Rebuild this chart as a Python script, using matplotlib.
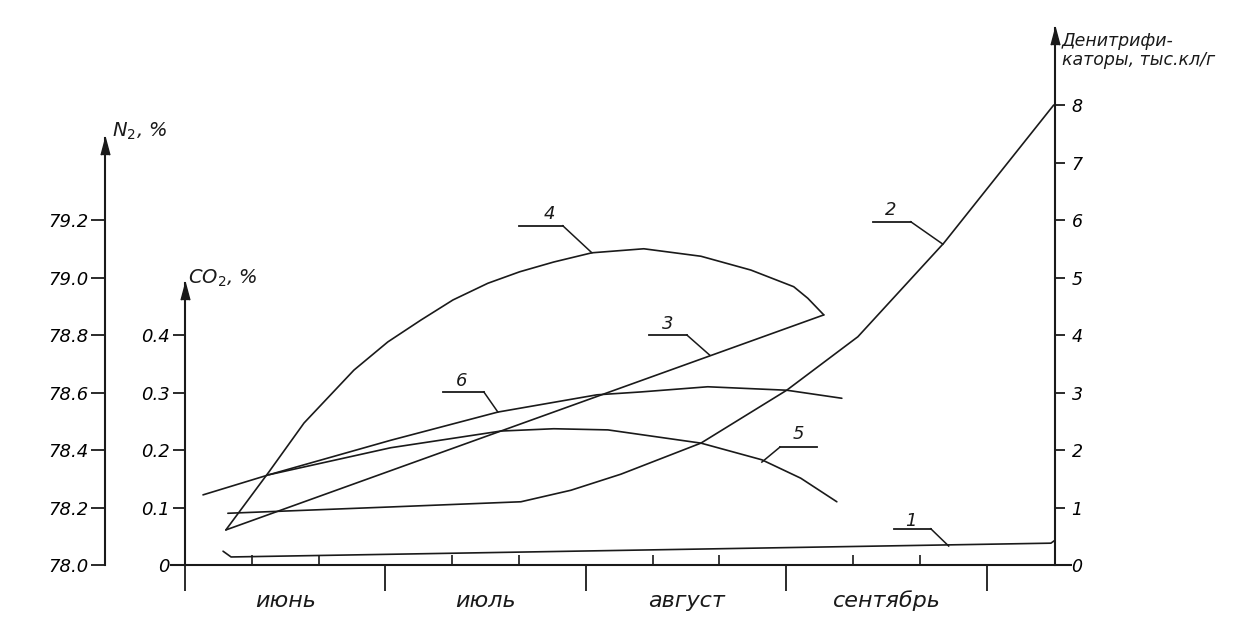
import matplotlib.pyplot as plt
import numpy as np

# x: months counted from 1 June (1 unit = 1 month)
# y: chart divisions (1 div = 1 thous. cells/g = 0.1 % CO2 = 0.2 % N2)
months = ["июнь", "июль", "август", "сентябрь"]

n2_ticks = [78.0, 78.2, 78.4, 78.6, 78.8, 79.0, 79.2]
n2_labels = ["78.0", "78.2", "78.4", "78.6", "78.8", "79.0", "79.2"]
co2_ticks = [0.0, 0.1, 0.2, 0.3, 0.4]
co2_labels = ["0", "0.1", "0.2", "0.3", "0.4"]
den_ticks = [0, 1, 2, 3, 4, 5, 6, 7, 8]

c1_x = [0.19, 0.23, 2.27, 4.32, 4.34]
c1_y = [0.24, 0.14, 0.26, 0.38, 0.43]

c2_x = [0.214, 1.027, 1.676, 1.925, 2.175, 2.574, 3.002, 3.357, 3.786, 4.334]
c2_y = [0.90, 1.01, 1.10, 1.30, 1.58, 2.12, 3.04, 3.97, 5.60, 8.00]

c3_x = [0.204, 3.187]
c3_y = [0.61, 4.35]

c4_x = [0.204, 0.419, 0.594, 0.843, 1.012, 1.177, 1.337, 1.511,
        1.670, 1.840, 2.030, 2.289, 2.574, 2.823, 3.037, 3.107, 3.187]
c4_y = [0.61, 1.62, 2.47, 3.39, 3.88, 4.26, 4.61, 4.90,
        5.10, 5.27, 5.43, 5.50, 5.37, 5.13, 4.84, 4.64, 4.35]

c5_x = [0.419, 1.027, 1.576, 1.840, 2.110, 2.574, 2.878, 3.072, 3.252]
c5_y = [1.57, 2.04, 2.33, 2.37, 2.35, 2.12, 1.83, 1.51, 1.10]

c6_x = [0.090, 0.419, 1.027, 1.561, 2.055, 2.274, 2.608, 3.002, 3.277]
c6_y = [1.22, 1.57, 2.17, 2.66, 2.96, 3.01, 3.10, 3.04, 2.90]

curves = [(c1_x, c1_y), (c2_x, c2_y), (c3_x, c3_y), (c4_x, c4_y), (c5_x, c5_y), (c6_x, c6_y)]

# curve number, text pos, shelf (x0, x1, y), point on the curve
callouts = [
    ("1", (3.62, 0.76), (3.536, 3.721, 0.63), (3.81, 0.33)),
    ("2", (3.52, 6.18), (3.431, 3.621, 5.97), (3.781, 5.58)),
    ("3", (2.41, 4.19), (2.314, 2.504, 4.00), (2.618, 3.65)),
    ("4", (1.82, 6.10), (1.666, 1.885, 5.90), (2.030, 5.43)),
    ("5", (3.06, 2.27), (2.968, 3.152, 2.05), (2.878, 1.79)),
    ("6", (1.38, 3.20), (1.287, 1.491, 3.01), (1.561, 2.66)),
]

ink = "#1a1a1a"
plt.rcParams["font.family"] = ["DejaVu Sans"]

fig = plt.figure(figsize=(12.45, 6.43), dpi=100)
ax = fig.add_axes([0.1373, 0.0408, 0.7229, 0.930])
ax.set_xlim(-0.07, 4.42)
ax.set_ylim(-0.9, 9.5)

for x, y in curves:
    ax.plot(x, y, color=ink, lw=1.2, solid_capstyle="round", solid_joinstyle="round",
            clip_on=False)

for num, tpos, shelf, pt in callouts:
    x0, x1, ys = shelf
    ax.plot([x0, x1], [ys, ys], color=ink, lw=1.3)
    sx = x1 if pt[0] > x1 else x0
    ax.plot([sx, pt[0]], [ys, pt[1]], color=ink, lw=1.1)
    ax.text(tpos[0], tpos[1], num, ha="center", va="center", fontsize=13,
            fontstyle="italic", color=ink)

# axes frame
ax.spines["top"].set_visible(False)
ax.spines["left"].set_visible(False)
ax.spines["bottom"].set_position(("data", 0))
ax.spines["bottom"].set_linewidth(1.5)
ax.spines["right"].set_position(("data", 4.34))
ax.spines["right"].set_bounds(0, 9.34)
ax.spines["right"].set_linewidth(1.5)
for s in ["bottom", "right"]:
    ax.spines[s].set_color(ink)

ax.set_xticks(range(5), [""] * 5)
ax.set_xticks([k / 3 for k in range(1, 12) if k % 3], minor=True)
ax.tick_params(axis="x", which="major", direction="out", length=19, width=1.3, color=ink)
ax.tick_params(axis="x", which="minor", direction="in", length=7, width=1.2, color=ink)
for i, m in enumerate(months):
    ax.text(i + 0.5, -0.62, m, ha="center", va="center", fontsize=16,
            fontstyle="italic", color=ink)

ax.yaxis.tick_right()
ax.set_yticks(den_ticks, [str(t) for t in den_ticks], fontstyle="italic", fontsize=12.5)
ax.tick_params(axis="y", direction="out", length=7, width=1.3, color=ink, pad=5)

# CO2 axis
co2 = ax.secondary_yaxis(0, functions=(lambda v: v * 0.1, lambda c: c * 10),
                         transform=ax.transData)
co2.spines["left"].set_bounds(0, 0.490)
co2.spines["left"].set_linewidth(1.5)
co2.spines["left"].set_color(ink)
co2.set_yticks(co2_ticks, co2_labels, fontstyle="italic", fontsize=13)
co2.tick_params(direction="out", length=9, width=1.3, color=ink, pad=2)

# N2 axis
n2 = ax.secondary_yaxis(-0.399, functions=(lambda v: 78 + 0.2 * v, lambda n: (n - 78) / 0.2),
                        transform=ax.transData)
n2.spines["left"].set_bounds(78.0, 79.486)
n2.spines["left"].set_linewidth(1.5)
n2.spines["left"].set_color(ink)
n2.set_yticks(n2_ticks, n2_labels, fontstyle="italic", fontsize=13)
n2.tick_params(direction="out", length=10, width=1.3, color=ink, pad=2)

# arrow heads on the vertical axes
head = [(-0.8, -3), (0, 0), (0.8, -3)]
for xa, ya in [(-0.399, 7.43), (0, 4.90), (4.34, 9.34)]:
    ax.plot(xa, ya, marker=head, markersize=24, color=ink, clip_on=False)

ax.text(-0.364, 7.55, "N$_2$, %", ha="left", va="center", fontsize=14,
        fontstyle="italic", color=ink)
ax.text(0.015, 4.98, "CO$_2$, %", ha="left", va="center", fontsize=14,
        fontstyle="italic", color=ink)
ax.text(4.374, 8.95, "Денитрифи-\nкаторы, тыс.кл/г", ha="left", va="center",
        fontsize=12.5, fontstyle="italic", color=ink, linespacing=1.05)

fig.savefig("out.png", dpi=100, facecolor="white")
